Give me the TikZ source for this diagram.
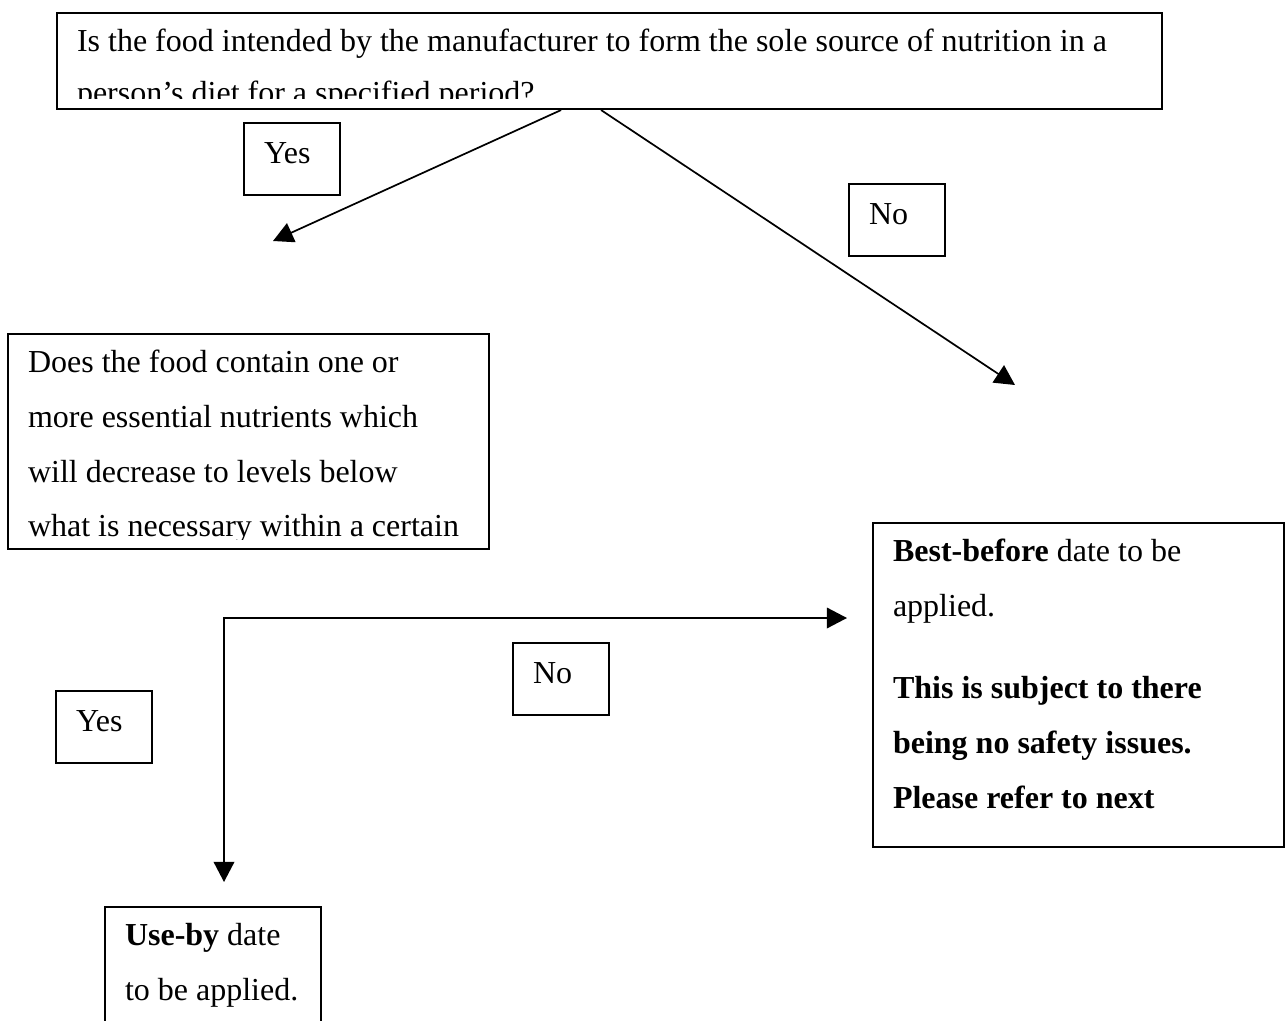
\documentclass[tikz,border=0pt]{standalone}
\usepackage{fontspec}
\setmainfont{Liberation Serif}
\usetikzlibrary{arrows.meta}
\def\u{0.4375pt}
\newcommand{\topgap}{\rule{0pt}{17pt}}
\tikzset{
	qbox/.style={draw, line width=0.9pt, anchor=north west, inner sep=0pt},
	qtext/.style={anchor=north west, inner sep=0pt, align=left, font=\fontsize{14}{24}\selectfont},
	tag/.style={draw, line width=0.9pt, anchor=north west, inner xsep=8.75pt, inner ysep=0pt, text width=24.5pt, text height=17.9pt, text depth=13.6pt, align=left, font=\fontsize{14}{24}\selectfont},
	flow/.style={line width=0.75pt}
}
\begin{document}
\begin{tikzpicture}[x=\u, y=-\u, >={Triangle[length=8.8pt,width=9pt]}]
	\useasboundingbox (0,0) rectangle (1285,1021);
	\clip (0,0) rectangle (1285,1021);
	\node[qbox, minimum width=1105*\u, minimum height=96*\u] (q1) at (56,12) {};
	\begin{scope}
		\clip (q1.north west) rectangle ([yshift=5pt]q1.south east);
		\node[qtext, font=\fontsize{14}{23}\selectfont] (q1t) at ([xshift=9pt]q1.north west) {\topgap Is the food intended by the manufacturer to form the sole source of nutrition in a\\person’s diet for a specified period?};
	\end{scope}
	\node[qbox, minimum width=481*\u, minimum height=215*\u] (q2) at (7,333) {};
	\begin{scope}
		\clip (q2.north west) rectangle ([yshift=4.5pt]q2.south east);
		\node[qtext] (q2t) at ([xshift=9pt]q2.north west) {\topgap Does the food contain one or\\more essential nutrients which\\will decrease to levels below\\what is necessary within a certain};
	\end{scope}
	\node[qbox, minimum width=411*\u, minimum height=324*\u] (bb) at (872,522) {};
	\node[qtext] (bbt) at ([xshift=9pt]bb.north west) {\topgap\textbf{Best-before} date to be\\applied.\\[12pt]\textbf{This is subject to there}\\\textbf{being no safety issues.}\\\textbf{Please refer to next}};
	\node[qbox, minimum width=216*\u, minimum height=140*\u] (ub) at (104,906) {};
	\node[qtext] (ubt) at ([xshift=9pt]ub.north west) {\topgap\textbf{Use-by} date\\to be applied.};
	\foreach \name/\txt/\x/\y in {yes1/Yes/243/122, no1/No/848/183, no2/No/512/642, yes2/Yes/55/690}
	{
		\node[tag] (\name) at (\x,\y) {\txt};
	}
	\coordinate (yes1end) at (273,241);
	\coordinate (no1end) at (1015,385);
	\coordinate (yes2end) at (224,882);
	\coordinate (no2end) at (847,618);
	\draw[flow,->] ([xshift=-21.2pt]q1.south) -- (yes1end);
	\draw[flow,->] ([xshift=-3.7pt]q1.south) -- (no1end);
	\draw[flow,<->] (yes2end) |- (no2end);
\end{tikzpicture}
\end{document}
